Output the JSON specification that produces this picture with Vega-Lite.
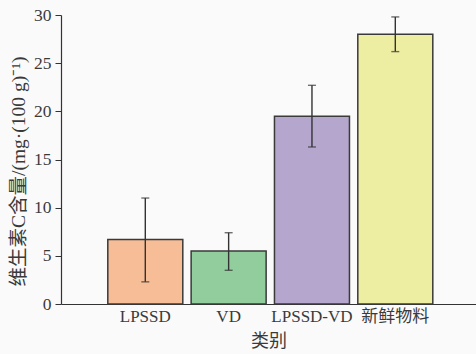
{
  "$schema": "https://vega.github.io/schema/vega-lite/v6.json",
  "width": 415,
  "height": 289,
  "autosize": {"type": "none"},
  "padding": {"left": 61, "top": 15, "right": 0, "bottom": 50},
  "background": "#fafafa",
  "config": {
    "view": {"stroke": null},
    "font": "'Liberation Serif', 'Noto Sans CJK SC'",
    "axis": {
      "labelFont": "'Liberation Serif', 'Noto Sans CJK SC'",
      "titleFont": "'Liberation Serif', 'Noto Sans CJK SC'",
      "labelColor": "#3a3a3a",
      "titleColor": "#3a3a3a",
      "domainColor": "#333333",
      "tickColor": "#333333",
      "titleFontWeight": "normal",
      "grid": false
    }
  },
  "data": {
    "values": [
      {"category": "LPSSD", "vc": 6.7, "low": 2.3, "high": 11.0},
      {"category": "VD", "vc": 5.5, "low": 3.5, "high": 7.4},
      {"category": "LPSSD-VD", "vc": 19.5, "low": 16.3, "high": 22.7},
      {"category": "新鲜物料", "vc": 28.0, "low": 26.2, "high": 29.8}
    ]
  },
  "encoding": {
    "x": {
      "field": "category",
      "type": "nominal",
      "sort": null,
      "title": "类别",
      "scale": {"paddingInner": 0.1, "paddingOuter": 0.54, "align": 0.52},
      "axis": {
        "labelAngle": 0,
        "labelFontSize": 17,
        "labelPadding": 4,
        "ticks": false,
        "domainWidth": 1.2,
        "titleFontSize": 18,
        "titleY": 37,
        "titleBaseline": "middle"
      }
    }
  },
  "layer": [
    {
      "mark": {"type": "bar", "stroke": "#3a3a3a", "strokeWidth": 1.5},
      "encoding": {
        "y": {
          "field": "vc",
          "type": "quantitative",
          "title": "维生素C含量/(mg·(100 g)⁻¹)",
          "scale": {"domain": [0, 30], "nice": false},
          "axis": {
            "values": [0, 5, 10, 15, 20, 25, 30],
            "labelFontSize": 17.5,
            "tickSize": 6,
            "labelPadding": 4,
            "domainWidth": 1.2,
            "titleFontSize": 19.5,
            "titleX": -43,
            "titleY": 156,
            "titleBaseline": "middle",
            "titleAngle": -90
          }
        },
        "color": {
          "field": "category",
          "type": "nominal",
          "sort": null,
          "scale": {
            "domain": ["LPSSD", "VD", "LPSSD-VD", "新鲜物料"],
            "range": ["#f6bd97", "#92cd9e", "#b4a6cc", "#eeeea2"]
          },
          "legend": null
        }
      }
    },
    {
      "mark": {"type": "rule", "color": "#333333", "strokeWidth": 1.4},
      "encoding": {
        "y": {"field": "low", "type": "quantitative"},
        "y2": {"field": "high"}
      }
    },
    {
      "mark": {"type": "tick", "color": "#333333", "size": 8, "thickness": 1.4},
      "encoding": {"y": {"field": "low", "type": "quantitative"}}
    },
    {
      "mark": {"type": "tick", "color": "#333333", "size": 8, "thickness": 1.4},
      "encoding": {"y": {"field": "high", "type": "quantitative"}}
    }
  ]
}
